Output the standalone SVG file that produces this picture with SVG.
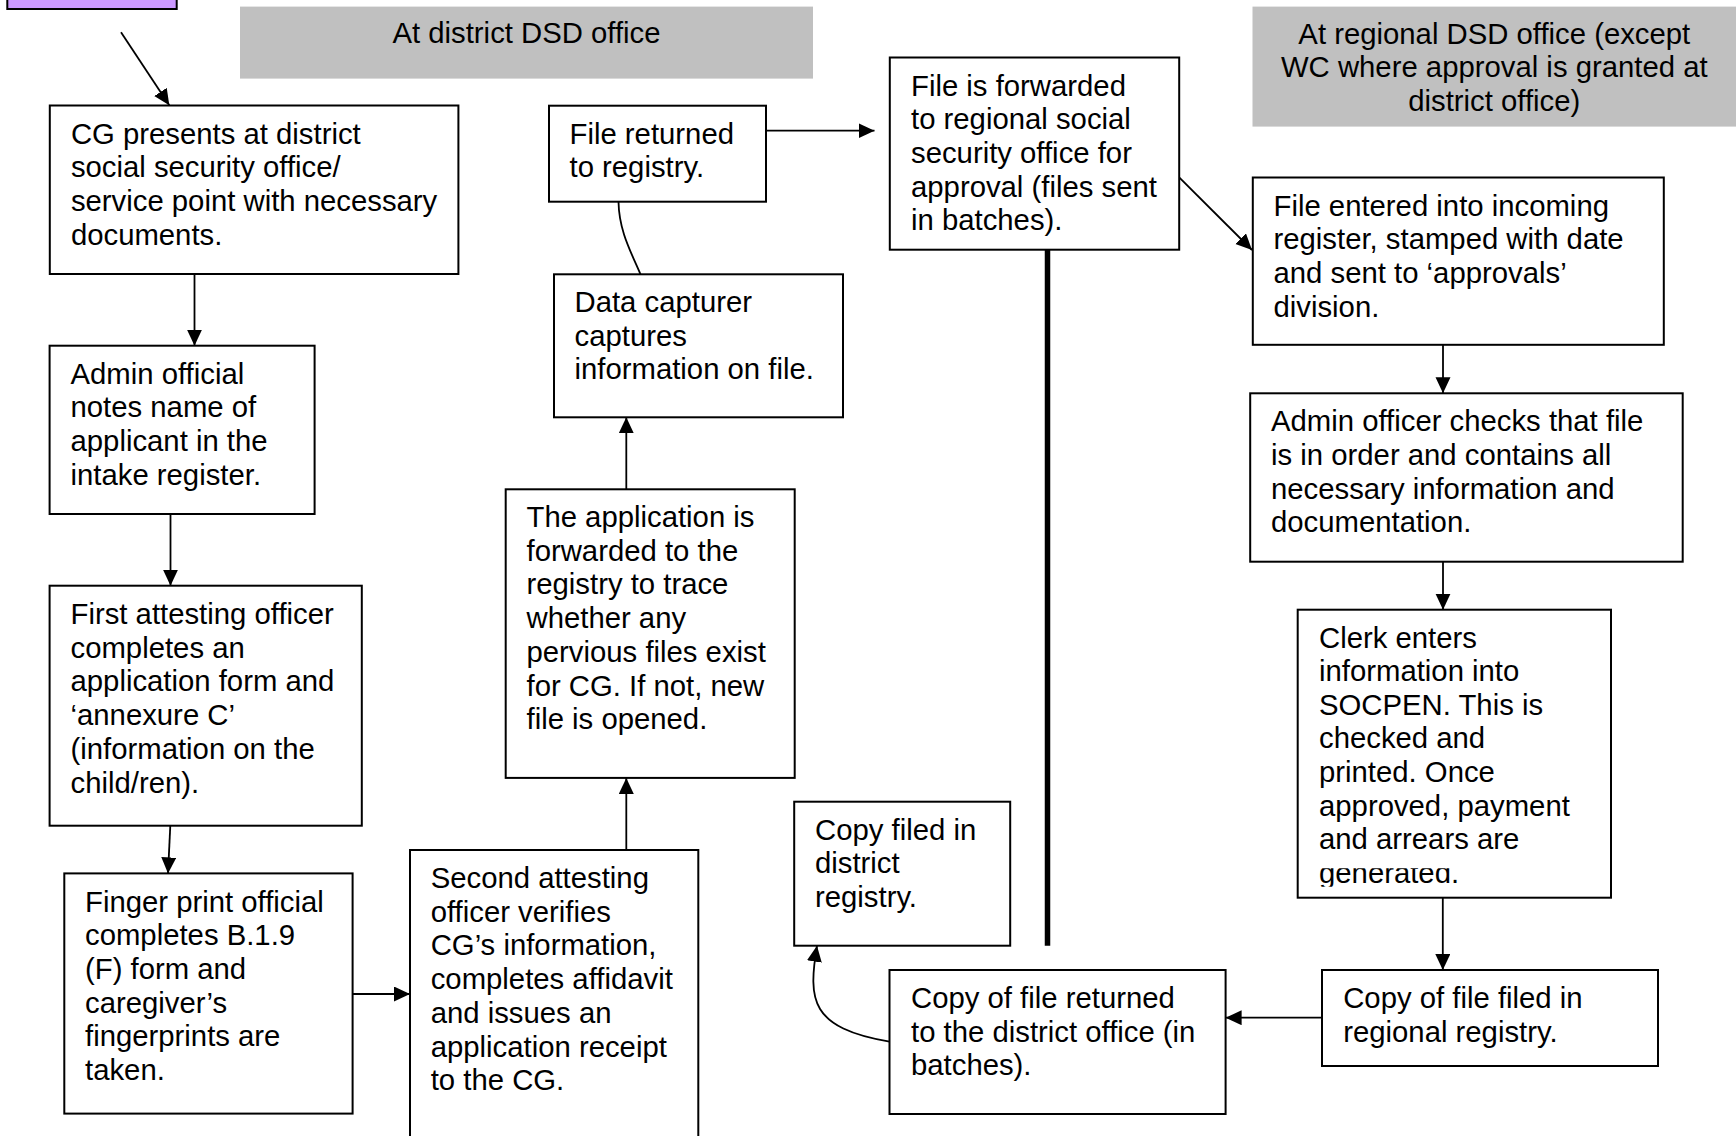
<svg xmlns="http://www.w3.org/2000/svg" width="1736" height="1136" viewBox="0 0 1736 1136">
<style>
.box{fill:#fff;stroke:#000;stroke-width:2}
.hdr{fill:#c0c0c0;stroke:none}
.t{font-family:"Liberation Sans",Arial,sans-serif;font-size:29.3px;fill:#000}
.m{text-anchor:middle}
.c{fill:none;stroke:#000;stroke-width:1.8}
.a{marker-end:url(#ah)}
.thick{fill:none;stroke:#000;stroke-width:5.5}
</style>
<defs>
<marker id="ah" markerUnits="userSpaceOnUse" markerWidth="17" markerHeight="16" refX="16" refY="7.5" orient="auto" viewBox="0 0 17 16">
<path d="M0,0 L16,7.5 L0,15 z" fill="#000"/>
</marker>
<clipPath id="clipGen"><rect x="1300" y="868.3" width="300" height="18.5"/></clipPath>
</defs>
<rect width="1736" height="1136" fill="#fff"/>

<g id="connectors">
<path class="c a" d="M121,32.3 L169.3,105.3"/>
<path class="c a" d="M194.5,274 L194.5,345.7"/>
<path class="c a" d="M170.5,514 L170.5,585.7"/>
<path class="c a" d="M170.3,825.7 L168,873.4"/>
<path class="c a" d="M343.4,994 L410,994"/>
<path class="c a" d="M626.3,850 L626.3,777.9"/>
<path class="c a" d="M626.3,489.3 L626.3,417.3"/>
<path class="c" d="M640.5,274.3 C630,250 619,230 618.5,201.7"/>
<path class="c a" d="M766,130.7 L874.5,130.7"/>
<path class="c a" d="M1179.2,177.4 L1252,250"/>
<path class="thick" d="M1047.5,249.7 L1047.5,945.7"/>
<path class="c a" d="M1443,344.8 L1443,393.3"/>
<path class="c a" d="M1443,561.7 L1443,609.7"/>
<path class="c a" d="M1442.8,897.7 L1442.8,970"/>
<path class="c a" d="M1322,1017.7 L1225.6,1017.7"/>
<path class="c a" d="M889.5,1041.7 C810,1028 808,1000 817,945.7"/>
</g>

<g id="start">
<rect class="box" x="7.3" y="-20" width="169.4" height="29" style="fill:#cc99ff"/>
</g>

<g id="header-district">
<rect class="hdr" x="240" y="6.6" width="573" height="72"/>
<text class="t m" x="526.5" y="43">At district DSD office</text>
</g>

<g id="header-regional">
<rect class="hdr" x="1252.5" y="6.6" width="490" height="120"/>
<text class="t m"><tspan x="1494.3" y="43.5">At regional DSD office (except</tspan><tspan x="1494.3" y="77.2">WC where approval is granted at</tspan><tspan x="1494.3" y="110.9">district office)</tspan></text>
</g>

<g id="cg-presents">
<rect class="box" x="49.8" y="105.5" width="408.6" height="168.5"/>
<text class="t"><tspan x="70.9" y="143.5">CG presents at district</tspan><tspan x="70.9" y="177.2">social security office/</tspan><tspan x="70.9" y="210.9">service point with necessary</tspan><tspan x="70.9" y="244.6">documents.</tspan></text>
</g>

<g id="admin-official">
<rect class="box" x="49.6" y="345.7" width="265" height="168.3"/>
<text class="t"><tspan x="70.5" y="383.5">Admin official</tspan><tspan x="70.5" y="417.2">notes name of</tspan><tspan x="70.5" y="450.9">applicant in the</tspan><tspan x="70.5" y="484.6">intake register.</tspan></text>
</g>

<g id="first-attesting">
<rect class="box" x="49.6" y="585.7" width="312.2" height="240"/>
<text class="t"><tspan x="70.5" y="624">First attesting officer</tspan><tspan x="70.5" y="657.7">completes an</tspan><tspan x="70.5" y="691.4">application form and</tspan><tspan x="70.5" y="725.1">‘annexure C’</tspan><tspan x="70.5" y="758.8">(information on the</tspan><tspan x="70.5" y="792.5">child/ren).</tspan></text>
</g>

<g id="finger-print">
<rect class="box" x="64.3" y="873.4" width="288.3" height="240.2"/>
<text class="t"><tspan x="85" y="911.5">Finger print official</tspan><tspan x="85" y="945.2">completes B.1.9</tspan><tspan x="85" y="978.9">(F) form and</tspan><tspan x="85" y="1012.6">caregiver’s</tspan><tspan x="85" y="1046.3">fingerprints are</tspan><tspan x="85" y="1080">taken.</tspan></text>
</g>

<g id="second-attesting">
<rect class="box" x="410" y="850" width="288.3" height="300"/>
<text class="t"><tspan x="430.7" y="888">Second attesting</tspan><tspan x="430.7" y="921.7">officer verifies</tspan><tspan x="430.7" y="955.4">CG’s information,</tspan><tspan x="430.7" y="989.1">completes affidavit</tspan><tspan x="430.7" y="1022.8">and issues an</tspan><tspan x="430.7" y="1056.5">application receipt</tspan><tspan x="430.7" y="1090.2">to the CG.</tspan></text>
</g>

<g id="application-forwarded">
<rect class="box" x="505.7" y="489.3" width="289" height="288.6"/>
<text class="t"><tspan x="526.5" y="527">The application is</tspan><tspan x="526.5" y="560.7">forwarded to the</tspan><tspan x="526.5" y="594.4">registry to trace</tspan><tspan x="526.5" y="628.1">whether any</tspan><tspan x="526.5" y="661.8">pervious files exist</tspan><tspan x="526.5" y="695.5">for CG. If not, new</tspan><tspan x="526.5" y="729.2">file is opened.</tspan></text>
</g>

<g id="data-capturer">
<rect class="box" x="554" y="274.3" width="289" height="143"/>
<text class="t"><tspan x="574.5" y="312">Data capturer</tspan><tspan x="574.5" y="345.7">captures</tspan><tspan x="574.5" y="379.4">information on file.</tspan></text>
</g>

<g id="file-returned">
<rect class="box" x="549" y="105.7" width="217" height="96"/>
<text class="t"><tspan x="569.5" y="143.7">File returned</tspan><tspan x="569.5" y="177.4">to registry.</tspan></text>
</g>

<g id="file-forwarded">
<rect class="box" x="889.8" y="57.5" width="289.4" height="192.2"/>
<text class="t"><tspan x="911" y="95.5">File is forwarded</tspan><tspan x="911" y="129.2">to regional social</tspan><tspan x="911" y="162.9">security office for</tspan><tspan x="911" y="196.6">approval (files sent</tspan><tspan x="911" y="230.3">in batches).</tspan></text>
</g>

<g id="file-entered">
<rect class="box" x="1252.8" y="177.5" width="411" height="167.3"/>
<text class="t"><tspan x="1273.5" y="215.5">File entered into incoming</tspan><tspan x="1273.5" y="249.2">register, stamped with date</tspan><tspan x="1273.5" y="282.9">and sent to ‘approvals’</tspan><tspan x="1273.5" y="316.6">division.</tspan></text>
</g>

<g id="admin-officer">
<rect class="box" x="1250.2" y="393.3" width="432.5" height="168.4"/>
<text class="t"><tspan x="1271" y="431.3">Admin officer checks that file</tspan><tspan x="1271" y="465">is in order and contains all</tspan><tspan x="1271" y="498.7">necessary information and</tspan><tspan x="1271" y="532.4">documentation.</tspan></text>
</g>

<g id="clerk">
<rect class="box" x="1297.7" y="609.7" width="313.3" height="288"/>
<text class="t"><tspan x="1319" y="647.5">Clerk enters</tspan><tspan x="1319" y="681.1">information into</tspan><tspan x="1319" y="714.7">SOCPEN. This is</tspan><tspan x="1319" y="748.3">checked and</tspan><tspan x="1319" y="781.9">printed. Once</tspan><tspan x="1319" y="815.5">approved, payment</tspan><tspan x="1319" y="849.1">and arrears are</tspan></text>
<text class="t" x="1319" y="882.7" clip-path="url(#clipGen)">generated.</text>
</g>

<g id="copy-regional">
<rect class="box" x="1322" y="970" width="336" height="96"/>
<text class="t"><tspan x="1343.2" y="1008">Copy of file filed in</tspan><tspan x="1343.2" y="1041.7">regional registry.</tspan></text>
</g>

<g id="copy-returned">
<rect class="box" x="889.5" y="970" width="336.1" height="144"/>
<text class="t"><tspan x="911" y="1008">Copy of file returned</tspan><tspan x="911" y="1041.7">to the district office (in</tspan><tspan x="911" y="1075.4">batches).</tspan></text>
</g>

<g id="copy-district">
<rect class="box" x="794.2" y="801.7" width="216" height="144"/>
<text class="t"><tspan x="815" y="839.5">Copy filed in</tspan><tspan x="815" y="873.2">district</tspan><tspan x="815" y="906.9">registry.</tspan></text>
</g>
</svg>
